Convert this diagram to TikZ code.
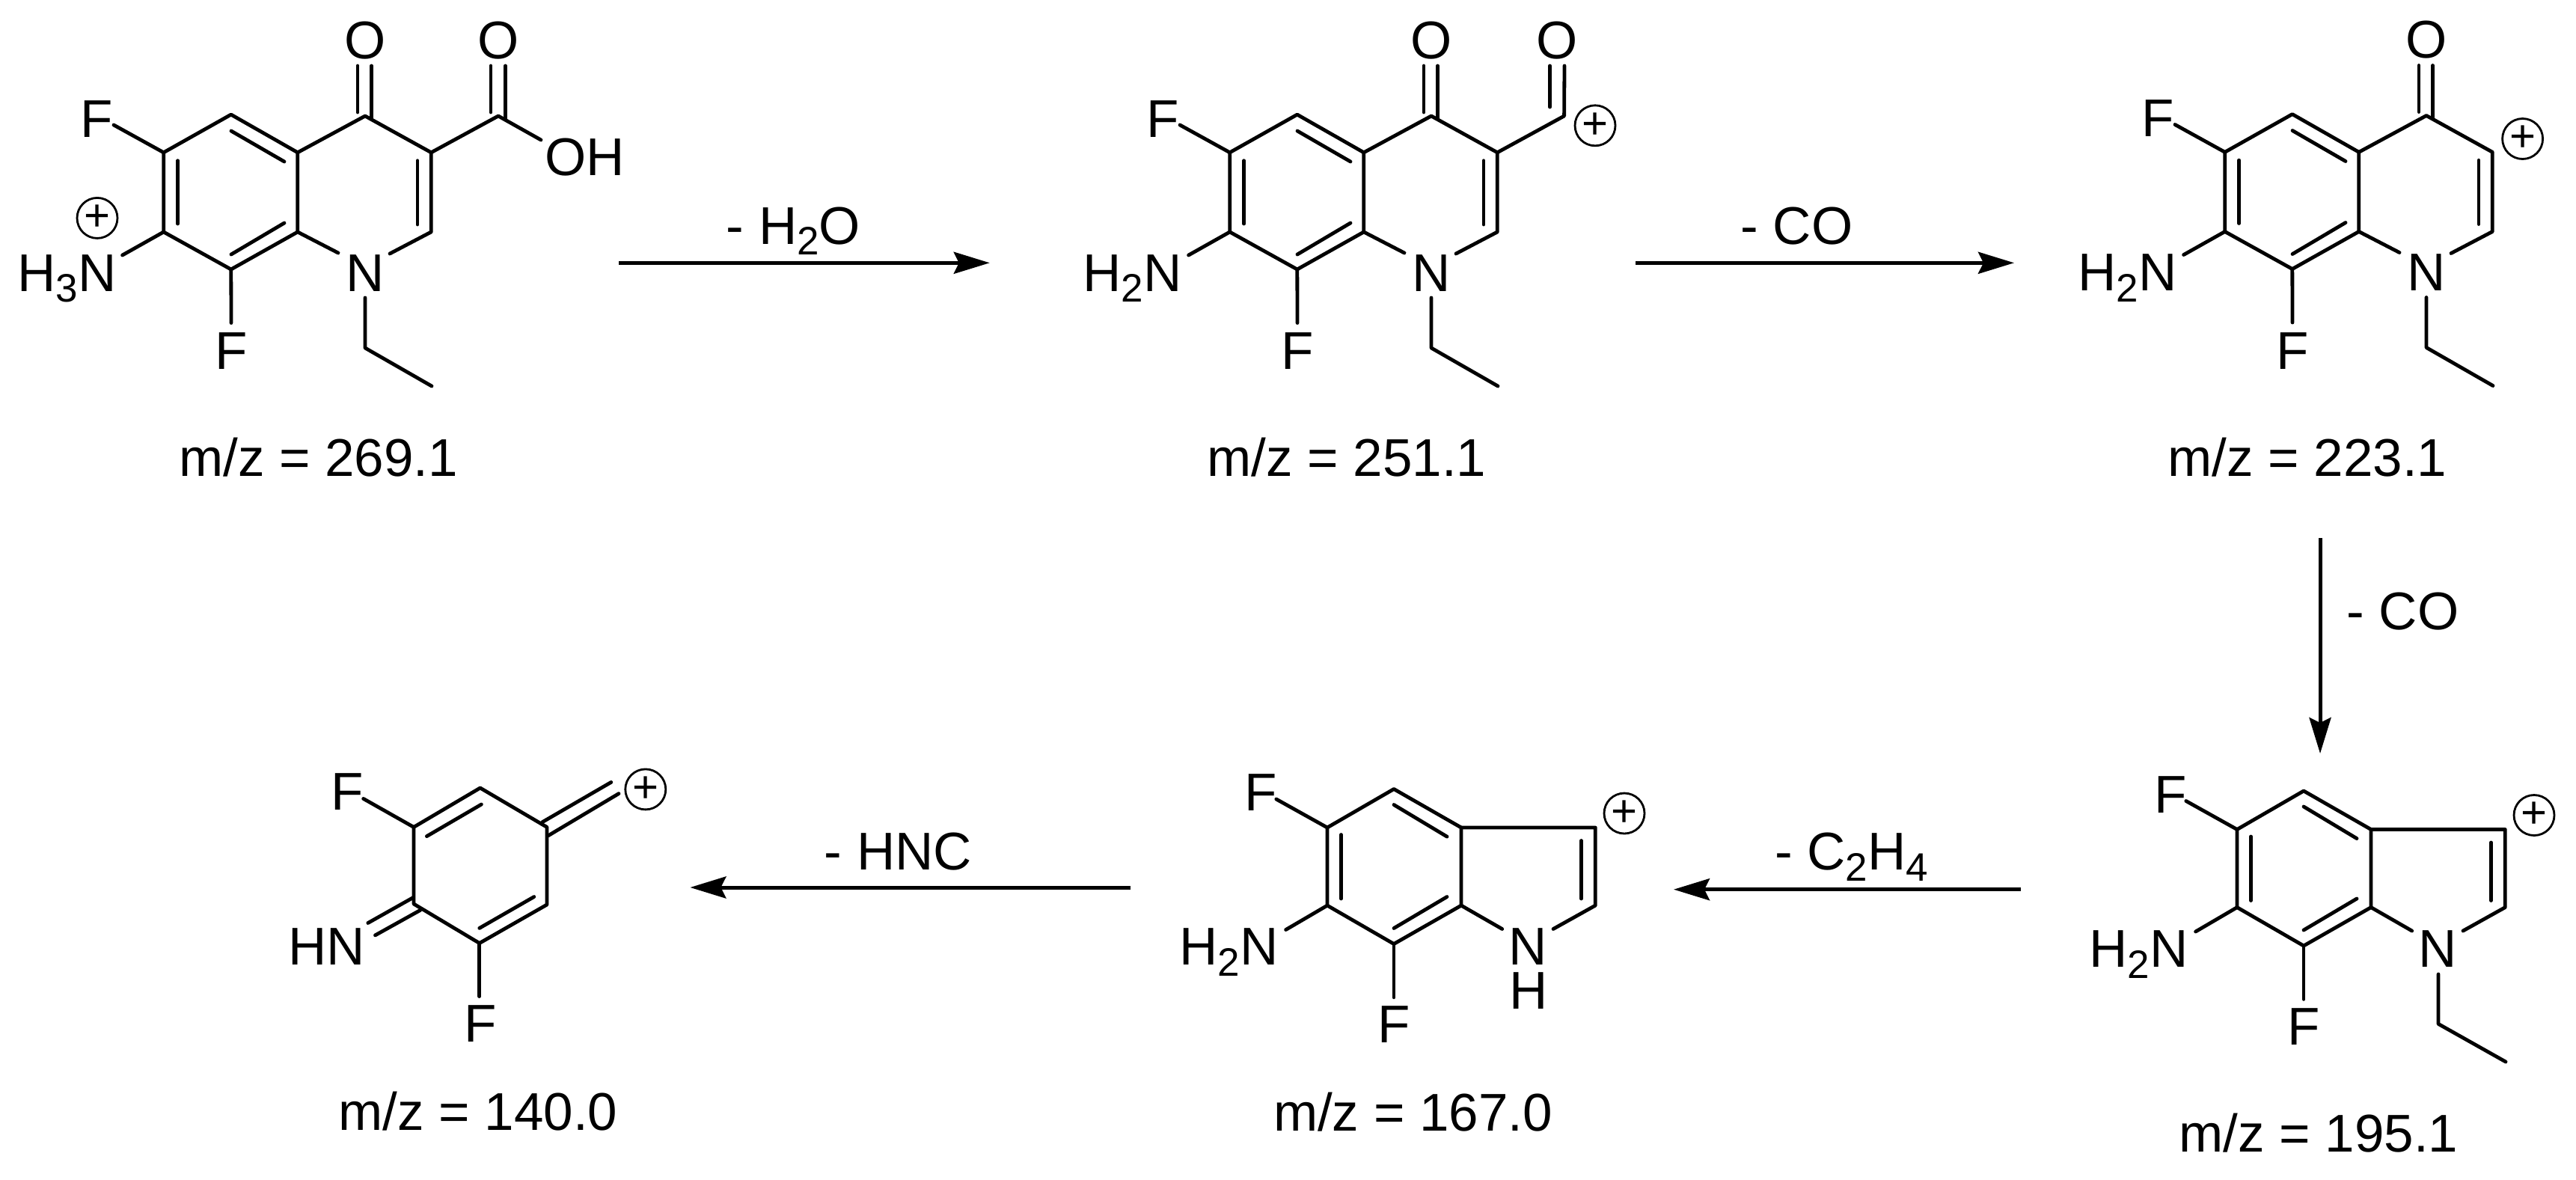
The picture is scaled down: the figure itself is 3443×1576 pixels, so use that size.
\documentclass[tikz,border=0pt]{standalone}
\usepackage{fontspec}
\setmainfont{Liberation Sans}
\usetikzlibrary{arrows.meta}
\newcommand\chemfont{\fontsize{35.5}{40}\selectfont}
\newcommand\subs[1]{\raisebox{-7.3pt}{\fontsize{26.5}{30}\selectfont #1}}
\tikzset{
  bond/.style={line width=2.4pt,line cap=round,line join=round},
  atom/.style={anchor=base,inner sep=0pt,font=\chemfont},
  charge/.style={draw,circle,line width=1.4pt,minimum size=27pt,inner sep=0pt,font=\fontsize{30}{30}\selectfont},
  rxn/.style={line width=2.5pt,-{Stealth[length=24pt,width=14.5pt,inset=3.5pt]}}
}
% skeleton of the quinolone, local frame = molecule 1
\newcommand\quinolone{
  \coordinate (a) at (218.7,203.8);
  \coordinate (b) at (308.8,153.1);
  \coordinate (c) at (397.8,203.8);
  \coordinate (d) at (397.8,310);
  \coordinate (e) at (308.8,360);
  \coordinate (f) at (218.7,310);
  \coordinate (g) at (488,155);
  \coordinate (h) at (576.3,203.8);
  \coordinate (i) at (576.3,310);
  \coordinate (ai) at (237.7,214.7);
  \coordinate (fi) at (237.7,299);
  \coordinate (bi) at (309,175);
  \coordinate (ci) at (380,216);
  \coordinate (ei) at (309,340);
  \coordinate (di) at (380,298);
  \coordinate (hi) at (558,214.7);
  \coordinate (ii) at (558,300);
  \coordinate (nd) at (452,338);
  \coordinate (ni) at (521,339);
  \coordinate (nb) at (488,398);
  \coordinate (et1) at (488,465);
  \coordinate (et2) at (577,516);
  \coordinate (fa) at (152,167);
  \coordinate (nf) at (163.6,341);
  \coordinate (fe) at (309,431.5);
  \coordinate (oa) at (478,88);
  \coordinate (ob) at (496.6,88);
  \coordinate (ga) at (478,150);
  \coordinate (gb) at (496.6,159);
  \draw[bond] (a)--(b)--(c)--(d)--(e)--(f)--cycle;
  \draw[bond] (c)--(g)--(h)--(i)--(ni);
  \draw[bond] (d)--(nd);
  \draw[bond] (ai)--(fi);
  \draw[bond] (bi)--(ci);
  \draw[bond] (ei)--(di);
  \draw[bond] (hi)--(ii);
  \draw[bond] (nb)--(et1)--(et2);
  \draw[bond] (a)--(fa);
  \draw[bond] (f)--(nf);
  \draw[bond] (e)--(fe);
  \draw[bond] (oa)--(ga);
  \draw[bond] (ob)--(gb);
  \node[atom] (Ftop) at (129.5,183) {F};
  \node[atom] (Fbot) at (309.4,493.5) {F};
  \node[atom] (N) at (488,389) {N};
  \node[atom] (Oket) at (488,78) {O};
}
% skeleton of the indole, local frame = molecule 4
\newcommand\indole{
  \coordinate (a) at (2990,1108.5);
  \coordinate (b) at (3079,1057);
  \coordinate (c) at (3169,1108.5);
  \coordinate (d) at (3169,1212.6);
  \coordinate (e) at (3079,1264);
  \coordinate (f) at (2990,1212.6);
  \coordinate (g) at (3348.3,1108.5);
  \coordinate (i) at (3348.3,1212.6);
  \coordinate (ai) at (3008.5,1118);
  \coordinate (fi) at (3008.5,1203.5);
  \coordinate (bi) at (3079,1078);
  \coordinate (ci) at (3150,1120.6);
  \coordinate (ei) at (3079,1243);
  \coordinate (di) at (3150,1201);
  \coordinate (gi) at (3329.4,1126);
  \coordinate (ii) at (3329.4,1203.5);
  \coordinate (nd) at (3223.7,1244);
  \coordinate (ni) at (3292,1244);
  \coordinate (fa) at (2921.8,1070.5);
  \coordinate (nf) at (2934.6,1245);
  \coordinate (fe) at (3079,1335.4);
  \draw[bond] (a)--(b)--(c)--(d)--(e)--(f)--cycle;
  \draw[bond] (c)--(g)--(i)--(ni);
  \draw[bond] (d)--(nd);
  \draw[bond] (ai)--(fi);
  \draw[bond] (bi)--(ci);
  \draw[bond] (ei)--(di);
  \draw[bond] (gi)--(ii);
  \draw[bond] (a)--(fa);
  \draw[bond] (f)--(nf);
  \draw[bond] (e)--(fe);
  \node[atom] (Ftop) at (2901,1086.4) {F};
  \node[atom] (Fbot) at (3079,1396) {F};
  \node[atom] (Nam) at (2858.6,1292.4) {H\subs{2}N};
  \node[atom] (N) at (3258.5,1292.4) {N};
}
\begin{document}
\begin{tikzpicture}[x=0.5pt,y=-0.5pt]
\fill[white] (0,0) rectangle (3443,1576);
\useasboundingbox (0,0) rectangle (3443,1576);

% molecule 1
\begin{scope}[name prefix=m1-]
  \quinolone
  \node[atom] (Nam) at (89.5,389) {H\subs{3}N};
  \node[charge] (plus) at (130,291.4) {+};
  \coordinate (k) at (666,155);
  \coordinate (oh) at (723,187);
  \coordinate (ka) at (656,88);
  \coordinate (kb) at (675.6,88);
  \coordinate (ka1) at (656,150);
  \coordinate (kb1) at (675.6,159);
  \draw[bond] (h)--(k)--(oh);
  \draw[bond] (ka)--(ka1);
  \draw[bond] (kb)--(kb1);
  \node[atom] (Oacid) at (666,78) {O};
  \node[atom] (OH) at (782,234.6) {OH};
  \node[atom] (mz) at (425.6,636.6) {m/z = 269.1};
\end{scope}

% molecule 2
\begin{scope}[name prefix=m2-,shift={(1425,0)}]
  \quinolone
  \node[atom] (Nam) at (88.5,389) {H\subs{2}N};
  \coordinate (k) at (665.6,155);
  \coordinate (ka) at (646.6,88);
  \coordinate (kb) at (666,88);
  \coordinate (ka1) at (646.6,143);
  \draw[bond] (h)--(k)--(kb);
  \draw[bond] (ka)--(ka1);
  \node[atom] (Oacy) at (656.4,78) {O};
  \node[charge] (plus) at (707,167.8) {+};
  \node[atom] (mz) at (375,636.6) {m/z = 251.1};
\end{scope}

% molecule 3
\begin{scope}[name prefix=m3-,shift={(2755,-0.5)}]
  \quinolone
  \node[atom] (Nam) at (88.3,389) {H\subs{2}N};
  \node[charge] (plus) at (616.6,186) {+};
  \node[atom] (mz) at (328.8,637) {m/z = 223.1};
\end{scope}

% molecule 4
\begin{scope}[name prefix=m4-]
  \indole
  \coordinate (nb) at (3259,1302);
  \coordinate (et1) at (3259,1368.4);
  \coordinate (et2) at (3349,1419);
  \draw[bond] (nb)--(et1)--(et2);
  \node[charge] (plus) at (3387,1089.5) {+};
  \node[atom] (mz) at (3099,1539.5) {m/z = 195.1};
\end{scope}

% molecule 5
\begin{scope}[name prefix=m5-,shift={(-1216,-2.5)}]
  \indole
  \node[atom] (H) at (3259,1351.2) {H};
  \node[charge] (plus) at (3387,1089.5) {+};
  \node[atom] (mz) at (3104.5,1513.5) {m/z = 167.0};
\end{scope}

% molecule 6
\begin{scope}[name prefix=m6-]
  \coordinate (a) at (553,1105.4);
  \coordinate (b) at (641.8,1053);
  \coordinate (c) at (731,1105.4);
  \coordinate (d) at (731,1209);
  \coordinate (e) at (640.8,1260.5);
  \coordinate (f) at (553,1208);
  \coordinate (ai) at (570.4,1117.6);
  \coordinate (bi) at (643.4,1075);
  \coordinate (ei) at (640.8,1240.4);
  \coordinate (di) at (713.8,1198.5);
  \coordinate (x1) at (725,1098.6);
  \coordinate (x2) at (816.8,1045.4);
  \coordinate (x3) at (732.7,1116.8);
  \coordinate (x4) at (827,1060.6);
  \coordinate (y1) at (552.6,1199.3);
  \coordinate (y2) at (491.8,1233.5);
  \coordinate (y3) at (561.7,1216.4);
  \coordinate (y4) at (501.5,1249.9);
  \coordinate (fa) at (485.7,1067.4);
  \coordinate (fe) at (640.8,1331.6);
  \draw[bond] (a)--(b)--(c)--(d)--(e)--(f)--cycle;
  \draw[bond] (ai)--(bi);
  \draw[bond] (ei)--(di);
  \draw[bond] (x1)--(x2);
  \draw[bond] (x3)--(x4);
  \draw[bond] (y1)--(y2);
  \draw[bond] (y3)--(y4);
  \draw[bond] (a)--(fa);
  \draw[bond] (e)--(fe);
  \node[atom] (Ftop) at (464,1082.6) {F};
  \node[atom] (Fbot) at (642.6,1392.4) {F};
  \node[atom] (HN) at (437,1289.8) {HN};
  \node[charge] (plus) at (862.8,1054.9) {+};
  \node[atom] (mz) at (639,1510.6) {m/z = 140.0};
\end{scope}

% reaction arrows
\coordinate (r1s) at (827,351.3);
\coordinate (r1e) at (1322.8,351.3);
\draw[rxn] (r1s)--(r1e);
\node[atom] (l1) at (1060.4,326) {- H\subs{2}O};
\coordinate (r2s) at (2186,351.3);
\coordinate (r2e) at (2692,351.3);
\draw[rxn] (r2s)--(r2e);
\node[atom] (l2) at (2401.4,326) {- CO};
\coordinate (r3s) at (3101,719);
\coordinate (r3e) at (3101,1007);
\draw[rxn] (r3s)--(r3e);
\node[atom] (l3) at (3211.5,841.7) {- CO};
\coordinate (r4s) at (2700.6,1188.7);
\coordinate (r4e) at (2237,1188.7);
\draw[rxn] (r4s)--(r4e);
\node[atom] (l4) at (2474.5,1162.7) {- C\subs{2}H\subs{4}};
\coordinate (r5s) at (1511.4,1186);
\coordinate (r5e) at (922.4,1186);
\draw[rxn] (r5s)--(r5e);
\node[atom] (l5) at (1200.3,1162.7) {- HNC};
\end{tikzpicture}
\end{document}
